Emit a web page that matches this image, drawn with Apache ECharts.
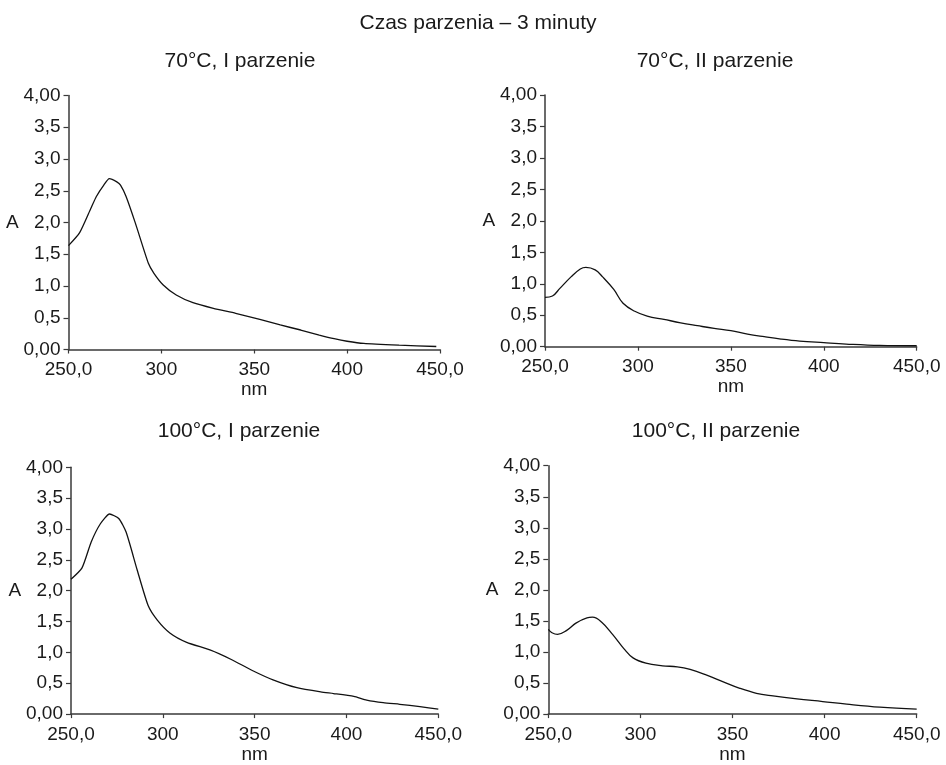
<!DOCTYPE html>
<html>
<head>
<meta charset="utf-8">
<title>Czas parzenia – 3 minuty</title>
<script src="https://cdn.jsdelivr.net/npm/echarts@6/dist/echarts.min.js"></script>
<style>
    html, body { margin: 0; padding: 0; background: #fff; }
    #div_spectra { width: 946px; height: 765px; }
</style>
</head>
<body>
<div id="div_spectra"></div>
<script>
// dane (nm, absorbancja A)
var nm70I = [250,256,262,265,269,272,276,278,281,286,293,296,301,308,317,328,340,353,364,375,385,393,400,409,428,448];
var a70I  = [1.635,1.84,2.22,2.41,2.59,2.69,2.64,2.59,2.41,1.99,1.357,1.20,1.016,0.858,0.737,0.648,0.57,0.475,0.386,0.307,0.228,0.17,0.13,0.095,0.068,0.047];

var nm70II = [250,254,258,264,269,272,277,281,287,292,298,305,314,323,332,341,350,359,368,377,387,400,412,430,450];
var a70II  = [0.784,0.805,0.927,1.11,1.235,1.26,1.22,1.11,0.91,0.69,0.567,0.487,0.434,0.38,0.334,0.29,0.254,0.20,0.159,0.122,0.09,0.064,0.042,0.02,0.015];

var nm100I = [250,256,261,266,271,276,280,286,292,297,304,313,326,337,349,360,373,386,393,404,411,420,429,440,450];
var a100I  = [2.185,2.37,2.79,3.085,3.243,3.17,2.95,2.34,1.76,1.524,1.311,1.163,1.036,0.889,0.703,0.555,0.428,0.359,0.333,0.286,0.228,0.185,0.159,0.122,0.08];

var nm100II = [250,252,255,260,265,271,274,279,285,291,296,303,312,320,327,336,345,354,363,372,385,399,412,430,450];
var a100II  = [1.363,1.31,1.284,1.348,1.465,1.55,1.56,1.48,1.28,1.055,0.905,0.82,0.778,0.762,0.72,0.628,0.52,0.415,0.335,0.293,0.245,0.202,0.16,0.112,0.08];

var mainTitle = 'Czas parzenia – 3 minuty';
var panelTitles = ['70°C, I parzenie', '70°C, II parzenie', '100°C, I parzenie', '100°C, II parzenie'];

var FONT = '"Liberation Sans", Arial, Helvetica, sans-serif';
var AXIS_COLOR = '#3a3a3a';
var TEXT_COLOR = '#1a1a1a';

/**
 * paruje tablice nm i A w punkty [x, y]
 */
function pairs(xs, ys) {
    var out = [];
    for (var i = 0; i < xs.length; i++) {
        out.push([xs[i], ys[i]]);
    }
    return out;
}

function xLabel(v) {
    if (v === 250 || v === 450) {
        return v + ',0';
    }
    return String(v);
}

function yLabel(v) {
    if (v === 0 || v === 4) {
        return v.toFixed(2).replace('.', ',');
    }
    return v.toFixed(1).replace('.', ',');
}

// pozycje wykresow (px)
var grids = [
    {left: 68.5, top: 95.5, width: 371.5, height: 254},
    {left: 545,  top: 95,   width: 371.7, height: 251.7},
    {left: 71,   top: 467.3, width: 367.3, height: 252},
    {left: 548.3, top: 465.7, width: 368.4, height: 250.3}
];
var titlePos = [
    {left: 235, top: 46},
    {left: 710, top: 46},
    {left: 234, top: 416},
    {left: 711, top: 416}
];
// I parzenie ma ostre zalamania, II parzenie gladsze
var smoothing = [0.2, 0.4, 0.2, 0.4];
var seriesData = [pairs(nm70I, a70I), pairs(nm70II, a70II), pairs(nm100I, a100I), pairs(nm100II, a100II)];

var titles = [{
    text: mainTitle,
    left: 473,
    top: 8,
    textAlign: 'center',
    textStyle: {fontFamily: FONT, fontSize: 21, fontWeight: 'normal', color: TEXT_COLOR}
}];
var xAxes = [], yAxes = [], series = [];

for (var i = 0; i < 4; i++) {
    titles.push({
        text: panelTitles[i],
        left: titlePos[i].left,
        top: titlePos[i].top,
        textAlign: 'center',
        textStyle: {fontFamily: FONT, fontSize: 21, fontWeight: 'normal', color: TEXT_COLOR}
    });
    xAxes.push({
        type: 'value',
        gridIndex: i,
        min: 250,
        max: 450,
        interval: 50,
        name: 'nm',
        nameLocation: 'middle',
        nameGap: 28,
        nameTextStyle: {fontFamily: FONT, fontSize: 19, color: TEXT_COLOR},
        axisLine: {show: true, lineStyle: {color: AXIS_COLOR, width: 1.5}},
        axisTick: {show: true, length: 4, lineStyle: {color: AXIS_COLOR, width: 1.2}},
        axisLabel: {fontFamily: FONT, fontSize: 19, color: TEXT_COLOR, margin: 11, formatter: xLabel},
        splitLine: {show: false}
    });
    yAxes.push({
        type: 'value',
        gridIndex: i,
        min: 0,
        max: 4,
        interval: 0.5,
        name: 'A',
        nameLocation: 'middle',
        nameRotate: 0,
        nameGap: 45,
        nameTextStyle: {fontFamily: FONT, fontSize: 19, color: TEXT_COLOR},
        axisLine: {show: true, lineStyle: {color: AXIS_COLOR, width: 1.5}},
        axisTick: {show: true, length: 5, lineStyle: {color: AXIS_COLOR, width: 1.2}},
        axisLabel: {fontFamily: FONT, fontSize: 19, color: TEXT_COLOR, margin: 8, formatter: yLabel},
        splitLine: {show: false}
    });
    series.push({
        name: panelTitles[i],
        type: 'line',
        xAxisIndex: i,
        yAxisIndex: i,
        data: seriesData[i],
        showSymbol: false,
        smooth: smoothing[i],
        lineStyle: {color: '#111', width: 1.3}
    });
}

var option_spectra = {
    backgroundColor: '#fff',
    animation: false,
    title: titles,
    grid: grids,
    xAxis: xAxes,
    yAxis: yAxes,
    series: series
};

var chart_spectra = echarts.init(document.getElementById('div_spectra'));
chart_spectra.setOption(option_spectra);
</script>
</body>
</html>
